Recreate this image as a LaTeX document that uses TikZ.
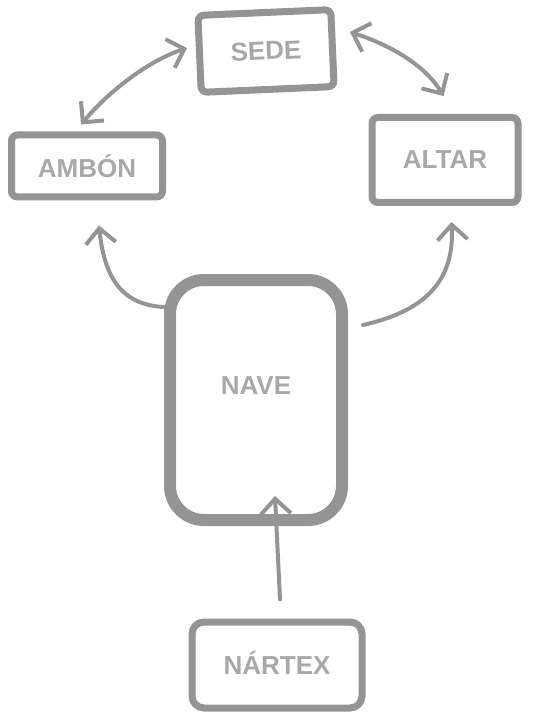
\documentclass[tikz,border=0pt]{standalone}
\usepackage{fontspec}
\setmainfont{Liberation Sans}
\usetikzlibrary{arrows.meta,calc}
\definecolor{pencil}{gray}{0.58}
\definecolor{pencilText}{gray}{0.66}
\begin{document}
\begin{tikzpicture}[x=1pt,y=1pt,
  room/.style={draw=pencil, line width=7pt, rounded corners=6pt, inner sep=0pt,
    text=pencilText, font=\fontsize{26}{28}\selectfont\bfseries},
  link/.style={draw=pencil, line width=4pt, line cap=round,
    -{Straight Barb[length=15pt,width=30pt,line width=4pt]}},
  link2/.style={link, {Straight Barb[length=15pt,width=30pt,line width=4pt]}-{Straight Barb[length=15pt,width=30pt,line width=4pt]}}
]
\useasboundingbox (0,0) rectangle (553,-719);

\node[room, minimum width=133pt, minimum height=77pt, rotate=2.5] (sede) at (266,-51) {SEDE};
\node[room, minimum width=151pt, minimum height=62pt] (ambon) at (87,-166) {AMBÓN};
\node[room, minimum width=146pt, minimum height=85pt] (altar) at (445,-160) {ALTAR};
\node[room, line width=12pt, rounded corners=34pt, minimum width=172pt, minimum height=240pt, text depth=28pt] (nave) at (256,-400) {NAVE};
\node[room, rounded corners=12pt, minimum width=170pt, minimum height=86pt, text depth=4pt] (nartex) at (277,-665) {NÁRTEX};

% SEDE <-> AMBON
\draw[link2] ($(ambon.north west)+(73,7)$) .. controls (110,-90) and (150,-60) .. ($(sede.west)+(-9,6)$);
% SEDE <-> ALTAR
\draw[link2] ($(sede.east)+(14,16)$) .. controls (390,-45) and (425,-65) .. ($(altar.north west)+(75,18)$);
% NAVE -> AMBON
\draw[link] ($(nave.north west)+(0,-33)$) .. controls (120,-305) and (104,-275) .. ($(ambon.south west)+(91,-25)$);
% NAVE -> ALTAR
\draw[link] ($(nave.east)+(15,75)$) .. controls (420,-312) and (455,-285) .. ($(altar.south west)+(83,-16)$);
% NARTEX -> NAVE
\draw[link] ($(nartex.north)+(3,19)$) -- ($(nave.south)+(19,30)$);
\end{tikzpicture}
\end{document}
